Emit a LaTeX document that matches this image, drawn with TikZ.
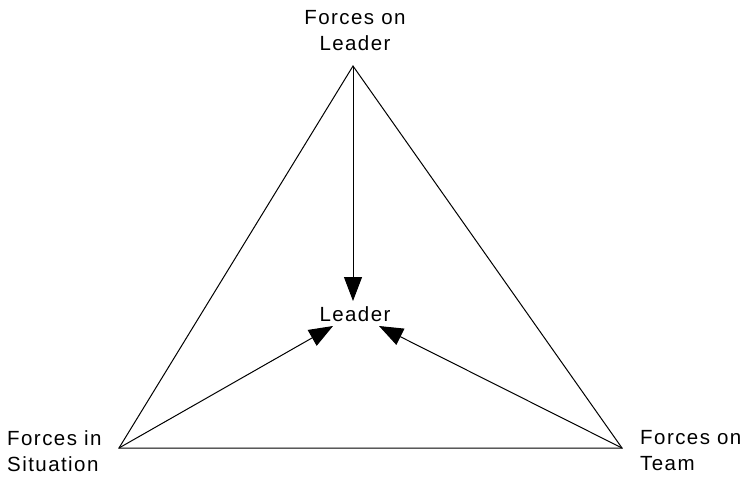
\documentclass[tikz,border=0pt]{standalone}
\usepackage{fontspec}
\setmainfont[LetterSpace=7]{Liberation Sans}
\usetikzlibrary{arrows.meta}
\begin{document}
\begin{tikzpicture}[x=1pt,y=-1pt,
  lbl/.style={font=\fontsize{20.5}{26}\selectfont, inner sep=0pt, align=left},
  edge/.style={line width=1pt},
  force/.style={line width=1pt, -{Triangle[length=24pt,width=18pt]}}]
\useasboundingbox (0,0) rectangle (747,477);
\coordinate (T) at (353,66);
\coordinate (L) at (119,448);
\coordinate (R) at (622,448);
\draw[edge] (T) -- (L) -- (R) -- cycle;
\node[lbl, align=center] (tl) at (355,31) {Forces on\\Leader};
\node[lbl, anchor=west] (ll) at (7,451) {Forces in\\Situation};
\node[lbl, anchor=west] (rl) at (640,451) {Forces on\\Team};
\node[lbl] (leader) at (355,314) {Leader};
\coordinate (a1) at (353,301);
\coordinate (a2) at (333,326);
\coordinate (a3) at (379,326);
\draw[force] (T) -- (a1);
\draw[force] (L) -- (a2);
\draw[force] (R) -- (a3);
\end{tikzpicture}
\end{document}
